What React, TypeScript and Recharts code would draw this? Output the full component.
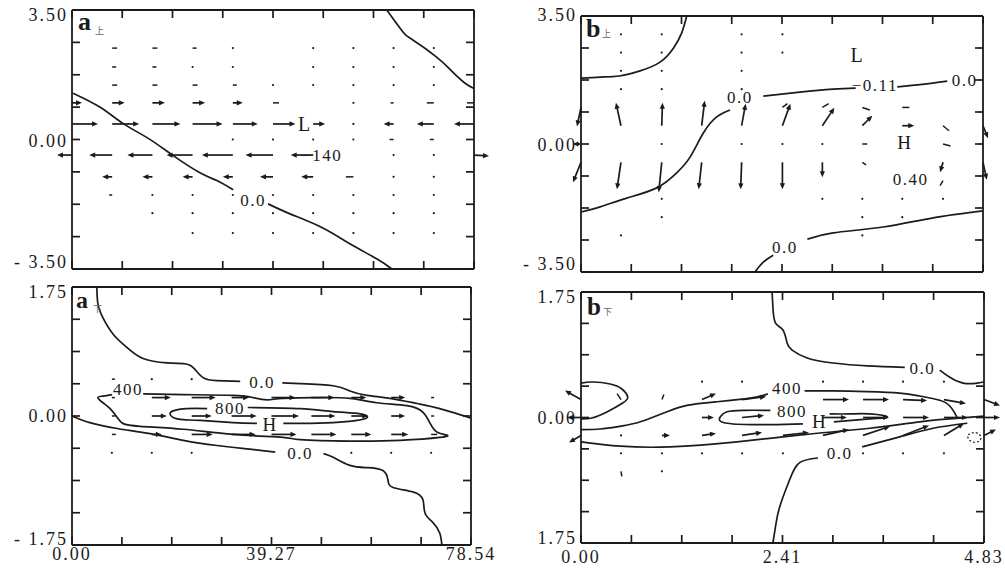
import React from 'react';
import { ComposedChart, Line, Scatter, XAxis, YAxis } from 'recharts';

type P = [number, number];
type V = [number, number, number, number]; // column index, y, u, v
type T = [number, number, string, number];

const INK = '#1b1b1b';
const FONT = '"Liberation Serif", "DejaVu Serif", "Times New Roman", serif';

// axis ticks
const aXTicks = [0, 9.8175, 19.635, 29.4525, 39.27, 49.0875, 58.905, 68.7225, 78.54];
const bXTicks = [0, 0.604, 1.2075, 1.811, 2.415, 3.019, 3.6225, 4.226, 4.83];
const topYTicks = [-3.5, -2.625, -1.75, -0.875, 0, 0.875, 1.75, 2.625, 3.5];
const lowYTicks = [-1.75, -1.3125, -0.875, -0.4375, 0, 0.4375, 0.875, 1.3125, 1.75];

const aXLabels = ['0.00', '', '', '', '39.27', '', '', '', '78.54'];
const bXLabels = ['0.00', '', '', '', '2.41', '', '', '', '4.83'];
const noLabels: string[] = [];
const topYLabels = ['- 3.50', '', '', '', '0.00', '', '', '', '3.50'];
const aLowYLabels = ['- 1.75', '', '', '', '0.00', '', '', '', '1.75'];
const bLowYLabels = ['1.75', '', '', '', '0.00', '', '', '', '1.75'];

// vector grid columns
const aCols = [0, 7.85, 15.71, 23.56, 31.42, 39.27, 47.12, 54.98, 62.83, 70.69, 78.54];
const bCols = [0, 0.48, 0.97, 1.45, 1.93, 2.42, 2.9, 3.38, 3.86, 4.35, 4.83];

// ---- a upper ----
const aTopRidge: P[] = [[61.5, 3.5], [64.7, 2.9], [66.6, 2.69], [71.3, 2.22], [74.4, 1.82], [76.8, 1.52], [78.54, 1.38]];
const aTopZeroW: P[] = [[0.2, 1.25], [5.5, 0.87], [10.0, 0.43], [14.9, 0.03], [19.7, -0.43], [25.0, -0.9], [28.3, -1.11], [31.5, -1.36]];
const aTopZeroE: P[] = [[38.3, -1.74], [42.6, -2.01], [49.0, -2.39], [54.3, -2.82], [59.6, -3.23], [62.5, -3.5]];
const aTopTags: T[] = [[45.5, 0.41, 'L', 20], [48.8, -0.43, '−140', 17], [35.4, -1.65, '0.0', 17]];
const aTopVectors: V[] = [
  [1, 2.47, 2, 0], [2, 2.47, 2, 0], [3, 2.47, 1.6, 0], [4, 2.47, 0.5, 0], [6, 2.47, 0.5, 0], [7, 2.47, 0.5, 0], [8, 2.47, 0.5, 0], [9, 2.47, 0.5, 0],
  [1, 1.96, 1.6, 0], [2, 1.96, 1.6, 0], [3, 1.96, 0.5, 0], [4, 1.96, 0.5, 0], [6, 1.96, 0.5, 0], [7, 1.96, 0.5, 0], [8, 1.96, 0.5, 0], [9, 1.96, 0.5, 0],
  [1, 1.47, 2, 0], [2, 1.47, 2, 0], [3, 1.47, 2, 0], [4, 1.47, 1.6, 0], [5, 1.47, 0.5, 0], [6, 1.47, 0.5, 0], [7, 1.47, 0.5, 0], [8, 1.47, 0.5, 0], [9, 1.47, 0.5, 0],
  [0, 0.99, 4, 0], [1, 0.99, 5, 0], [2, 0.99, 5, 0], [3, 0.99, 5, 0], [4, 0.99, 4, 0], [5, 0.99, 2.4, 0], [7, 0.99, 0.5, 0], [8, 0.99, -1.2, 0], [9, 0.99, -2.8, 0], [10, 0.99, -2.8, 0],
  [0, 0.42, 10.4, 0], [1, 0.42, 10.8, 0], [2, 0.42, 11.2, 0], [3, 0.42, 12, 0], [4, 0.42, 10, 0], [5, 0.42, 9, 0], [6, 0.42, 4.8, 0], [7, 0.42, 0.5, 0], [8, 0.42, -4, 0], [9, 0.42, -6.8, 0], [10, 0.42, -8, 0],
  [4, 0, 0.5, 0], [5, 0, 0.5, 0], [6, 0, 0.5, 0], [7, 0, 0.5, 0], [8, 0, -1.6, 0], [9, 0, -1.6, 0],
  [0, -0.42, -6, 0], [1, -0.42, -9.2, 0], [2, -0.42, -10, 0], [3, -0.42, -10.4, 0], [4, -0.42, -12.4, 0], [5, -0.42, -11, 0], [6, -0.42, -9, 0], [8, -0.42, 0.5, 0], [9, -0.42, 0.5, 0], [10, -0.42, 6, -0.4],
  [1, -1.01, -4, 0], [2, -1.01, -4, 0], [3, -1.01, -4, 0], [4, -1.01, -4, 0], [5, -1.01, -5.2, 0], [6, -1.01, -4.8, 0], [7, -1.01, -3, 0], [8, -1.01, 0.5, 0], [9, -1.01, 0.5, 0],
  [1, -1.5, -1.2, 0], [2, -1.5, 0.5, 0], [3, -1.5, 0.5, 0], [4, -1.5, 0.5, 0], [5, -1.5, 0.5, 0], [6, -1.5, 0.5, 0], [7, -1.5, 0.5, 0], [8, -1.5, 0.5, 0], [9, -1.5, 0.5, 0],
  [2, -1.99, 0.5, 0], [3, -1.99, 0.5, 0], [4, -1.99, 0.5, 0], [5, -1.99, 0.5, 0], [6, -1.99, 0.5, 0], [7, -1.99, 0.5, 0], [8, -1.99, 0.5, 0], [9, -1.99, 0.5, 0],
  [3, -2.53, 0.5, 0], [4, -2.53, 0.5, 0], [5, -2.53, 0.5, 0], [6, -2.53, 0.5, 0], [7, -2.53, 0.5, 0], [8, -2.53, 0.5, 0], [9, -2.53, 0.5, 0],
];

// ---- b upper ----
const bTopCorner: P[] = [[0, 1.8], [0.23, 1.83], [0.46, 1.86], [0.71, 2.0], [0.95, 2.24], [1.11, 2.62], [1.21, 3.04], [1.27, 3.5]];
const bTopZeroW: P[] = [[0, -1.86], [0.23, -1.72], [0.55, -1.48], [0.91, -1.2], [1.15, -0.79], [1.31, -0.36], [1.47, 0.3], [1.63, 0.74], [1.79, 0.93]];
const bTopZeroM: P[] = [[2.19, 1.31], [2.63, 1.42], [3.03, 1.5], [3.3, 1.53]];
const bTopZeroE: P[] = [[3.8, 1.56], [4.1, 1.63], [4.4, 1.72]];
const bTopLowS: P[] = [[4.83, -1.83], [4.23, -2.02], [3.63, -2.27], [3.03, -2.43], [2.72, -2.6]];
const bTopLowN: P[] = [[2.31, -3.04], [2.19, -3.23], [2.09, -3.5]];
const bTopTags: T[] = [
  [3.32, 2.43, 'L', 20], [1.91, 1.26, '0.0', 17], [3.53, 1.61, '−0.11', 17], [4.61, 1.75, '0.0', 17],
  [3.89, 0.03, 'H', 19], [3.96, -0.98, '0.40', 17], [2.45, -2.82, '0.0', 17],
];
const bTopVectors: V[] = [
  [1, 3, 0.3, 0], [2, 3, 0.3, 0], [4, 3, 0.3, 0], [5, 3, 0.3, 0],
  [1, 2.5, 0.3, 0], [2, 2.5, 0.3, 0], [4, 2.5, 0.3, 0], [5, 2.5, 0.3, 0],
  [1, 2, 0.3, 0], [2, 2, 0.3, 0], [4, 2, 0.3, 0],
  [1, 1.5, 0.3, 0], [2, 1.5, 0.3, 0], [4, 1.5, 0.3, 0],
  [0, 1, -1.6, -7.6], [5, 1, 2, 1.5], [6, 1, 2.5, 1.5], [7, 1, 3, -1], [8, 1, 2.8, 0],
  [1, 0.5, -2, 9.2], [2, 0.5, 0.3, 9.2], [3, 0.5, 1.2, 10], [4, 0.5, 1.6, 8.8], [5, 0.5, 3.2, 8.8], [6, 0.5, 4.8, 7.2], [7, 0.5, 4, 4], [8, 0.5, 4.8, 0], [9, 0.5, 2.4, -2], [10, 0.5, 2, -5],
  [0, 0, -3.4, 0], [2, 0, 0.3, 0], [4, 0, 0.3, 0], [5, 0, 0.3, 0], [6, 0, 0.3, 0], [7, 0, 2, 0], [9, 0, 3, -0.8],
  [0, -0.5, -3.2, -8], [1, -0.5, -1.6, -10.8], [2, -0.5, -1.2, -12], [3, -0.5, -1.2, -10.8], [4, -0.5, -0.4, -10.8], [5, -0.5, 0, -10.8], [6, -0.5, 0, -6], [7, -0.5, 1.5, -1], [9, -0.5, -1.2, -4], [10, -0.5, 1.5, -7],
  [9, -1, -1.2, -2],
  [2, -1.5, 0.3, 0], [6, -1.5, 0.3, 0], [7, -1.5, 0.3, 0], [8, -1.5, 0.3, 0], [9, -1.5, 0.3, 0],
  [2, -2, 0.3, 0], [7, -2, 0.3, 0], [8, -2, 0.3, 0],
  [1, -2.5, 0.3, 0], [7, -2.5, 0.3, 0],
];

// ---- a lower ----
const aLowZeroNW: P[] = [[4.9, 1.75], [5.1, 1.52], [6.1, 1.33], [8.1, 1.11], [10.8, 0.93], [14.0, 0.78], [18.7, 0.72], [21.9, 0.71], [23.8, 0.66], [25.8, 0.52], [28.5, 0.48], [33.1, 0.47]];
const aLowZeroNE: P[] = [[41.4, 0.45], [44.9, 0.44], [51.4, 0.41], [54.7, 0.34], [58.1, 0.28], [62.6, 0.24], [67.9, 0.17], [72.4, 0.1], [78.54, -0.03]];
const aLowZeroSW: P[] = [[0, 0], [3.5, -0.09], [8.9, -0.17], [15.4, -0.24], [21.9, -0.33], [28.5, -0.4], [35.0, -0.45], [40.0, -0.49]];
const aLowZeroSE: P[] = [[49.5, -0.51], [51.4, -0.56], [54.7, -0.67], [58.1, -0.7], [61.2, -0.74], [62.2, -0.87], [63.2, -0.97], [67.1, -1.03], [69.1, -1.14], [69.5, -1.32], [71.1, -1.45], [72.4, -1.59], [72.8, -1.75]];
const aLow400: P[] = [
  [14.0, 0.3], [21.9, 0.29], [31.7, 0.28], [35.6, 0.25], [38.4, 0.22], [41.5, 0.24], [48.2, 0.25], [54.7, 0.24], [60.0, 0.18], [65.9, 0.14],
  [69.1, 0.05], [70.5, -0.1], [71.9, -0.22], [73.8, -0.26], [72.4, -0.29], [64.6, -0.33], [54.7, -0.34], [44.9, -0.32], [41.5, -0.29],
  [31.7, -0.25], [21.9, -0.18], [13.4, -0.14], [10.0, -0.1], [8.9, -0.02], [7.5, 0.1], [6.1, 0.18], [5.1, 0.25], [6.1, 0.27], [7.9, 0.29],
];
const aLow800E: P[] = [[34.6, 0.115], [44.9, 0.1], [51.4, 0.06], [56.7, 0.03], [58.1, -0.02], [56.1, -0.06], [51.4, -0.09], [44.9, -0.1], [41.6, -0.1]];
const aLow800W: P[] = [[36.4, -0.1], [31.7, -0.09], [25.2, -0.06], [21.9, -0.05], [19.9, -0.02], [19.3, 0.03], [19.9, 0.07], [22.6, 0.1], [26.6, 0.1]];
const aLowTags: T[] = [
  [37.4, 0.45, '0.0', 17], [44.9, -0.51, '0.0', 17], [11.0, 0.36, '400', 17], [31.1, 0.1, '800', 17], [39.0, -0.11, 'H', 19],
];
const aLowVectors: V[] = [
  [1, 0.5, 1.2, 0], [2, 0.5, 0.5, 0], [3, 0.5, 0.5, 0],
  [1, 0.25, 1.2, 0], [2, 0.25, 7.6, 0], [3, 0.25, 9.6, 0], [4, 0.25, 7, 0], [5, 0.25, 9.6, 0], [6, 0.25, 9.2, 0], [7, 0.25, 6, 0], [8, 0.25, 5.6, 0], [9, 0.25, 1.2, 0],
  [1, 0, 1.2, 0], [2, 0, 6, 0], [3, 0, 8, 0], [4, 0, 10, 0], [5, 0, 11, 0], [6, 0, 9.6, 0], [7, 0, 6.8, 0], [8, 0, 5.6, 0], [9, 0, 1.2, 0],
  [1, -0.25, 1.6, 0], [2, -0.25, 4, 0], [3, -0.25, 8.4, 0], [4, -0.25, 9.6, 0], [5, -0.25, 10, 0], [6, -0.25, 10, 0], [7, -0.25, 8, 0], [8, -0.25, 6.8, 0], [9, -0.25, 2.4, 0],
  [1, -0.5, 0.5, 0], [2, -0.5, 0.5, 0], [3, -0.5, 0.5, 0], [7, -0.5, 0.5, 0], [8, -0.5, 0.5, 0], [9, -0.5, 0.5, 0],
];

// ---- b lower ----
const bLowLobe: P[] = [[0, 0.48], [0.14, 0.495], [0.35, 0.467], [0.49, 0.397], [0.56, 0.286], [0.5, 0.202], [0.31, 0.077], [0.13, -0.007], [0, -0.02]];
const bLow400W: P[] = [[0, -0.17], [0.23, -0.16], [0.43, -0.13], [0.65, -0.08], [0.83, -0.01], [1.03, 0.08], [1.27, 0.17], [1.63, 0.22], [2.03, 0.27], [2.24, 0.33]];
const bLow400E: P[] = [[2.68, 0.37], [3.02, 0.37], [3.43, 0.36], [3.82, 0.34], [4.06, 0.3], [4.3, 0.24], [4.42, 0.16], [4.48, 0.06], [4.51, -0.01]];
const bLowJet: P[] = [[0, -0.34], [0.47, -0.4], [1.07, -0.41], [1.87, -0.34], [2.66, -0.24], [3.46, -0.15], [4.06, -0.06], [4.42, -0.02], [4.83, 0.02]];
const bLow800W: P[] = [[2.27, 0.1], [1.94, 0.1], [1.75, 0.08], [1.67, 0.01], [1.75, -0.08], [2.27, -0.1], [2.66, -0.09]];
const bLow800E: P[] = [[3.03, -0.06], [3.46, -0.02], [3.67, 0.01], [3.46, 0.05], [3.22, 0.05], [2.98, 0.05]];
const bLowZeroN1: P[] = [[2.29, 1.75], [2.3, 1.54], [2.33, 1.32], [2.42, 1.22], [2.47, 1.04], [2.53, 0.94], [2.71, 0.83], [3.02, 0.76], [3.43, 0.72], [3.88, 0.7]];
const bLowZeroN2: P[] = [[4.3, 0.66], [4.42, 0.56], [4.58, 0.48], [4.75, 0.48], [4.83, 0.495]];
const bLowZeroS1: P[] = [[4.63, -0.08], [4.22, -0.15], [3.82, -0.27], [3.37, -0.41]];
const bLowZeroS2: P[] = [[2.84, -0.565], [2.62, -0.63], [2.5, -0.87], [2.38, -1.25], [2.33, -1.53], [2.3, -1.75]];
const bLowDashed: P[] = [[4.64, -0.24], [4.72, -0.21], [4.79, -0.26], [4.77, -0.33], [4.69, -0.34], [4.64, -0.29], [4.64, -0.24]];
const bLowTags: T[] = [
  [4.09, 0.69, '0.0', 17], [2.47, 0.41, '400', 17], [2.53, 0.09, '800', 17], [2.86, -0.05, 'H', 19], [3.1, -0.5, '0.0', 17],
];
const bLowVectors: V[] = [
  [3, 0.5, 0.3, 0], [4, 0.5, 0.3, 0], [6, 0.5, 0.3, 0], [7, 0.5, 0.3, 0], [8, 0.5, 0.3, 0], [9, 0.5, 0.3, 0],
  [0, 0.25, -6.4, 3.6], [1, 0.25, -1.6, 2.4], [2, 0.25, 0.8, 2], [3, 0.25, 5.6, 2.4], [4, 0.25, 9.6, 1.2], [6, 0.25, 10.4, 0], [7, 0.25, 10.4, 0], [8, 0.25, 9.6, -0.4], [9, 0.25, 8.8, -1.6], [10, 0.25, 6.4, -2.4],
  [0, 0, -5.6, 0], [3, 0, 4.8, 0], [4, 0, 8.8, 0.8], [6, 0, 9.6, 0], [7, 0, 10.4, 0], [8, 0, 10.4, 0], [9, 0, 9.6, 0], [10, 0, 6.4, 0],
  [0, -0.25, -4.8, -2.8], [1, -0.25, 0.3, 0], [2, -0.25, 3.2, 0], [3, -0.25, 5.6, 0.8], [4, -0.25, 8, 1.2], [5, -0.25, 10.4, 1.2], [6, -0.25, 10.4, 2.4], [7, -0.25, 10.8, 3.6], [8, -0.25, 10.4, 4], [9, -0.25, 8, 4.8], [10, -0.25, 4.8, 2.4],
  [1, -0.5, 0.3, 0], [2, -0.5, 0.3, 0], [3, -0.5, 0.3, 0], [4, -0.5, 0.3, 0], [5, -0.5, 0.3, 0], [7, -0.5, 0.3, 0], [8, -0.5, 0.3, 0], [9, -0.5, 0.3, 0],
  [1, -0.75, 0.3, -2], [2, -0.75, 0.3, 0],
];

const pts = (list: P[]) => list.map(([x, y]) => ({ x, y }));
const vecs = (list: V[], cols: number[]) => list.map(([k, y, u, v]) => ({ x: cols[k], y, u, v }));
const tags = (list: T[]) => list.map(([x, y, text, size]) => ({ x, y, text, size }));

// inward tick marks on all four sides of the frame, one point per tick value
const frameTicks = (xs: number[], ys: number[], xMax: number, yMax: number) => [
  ...xs.map((x) => ({ x, y: -yMax, dx: 0, dy: -1 })),
  ...xs.map((x) => ({ x, y: yMax, dx: 0, dy: 1 })),
  ...ys.map((y) => ({ x: 0, y, dx: 1, dy: 0 })),
  ...ys.map((y) => ({ x: xMax, y, dx: -1, dy: 0 })),
];

const TICK_LEN = 8;

function TickMark(props: any) {
  const { cx, cy, payload } = props;
  if (cx == null || cy == null) return <g />;
  return (
    <line x1={cx} y1={cy} x2={cx + payload.dx * TICK_LEN} y2={cy + payload.dy * TICK_LEN}
      stroke={INK} strokeWidth={1.7} />
  );
}

function Arrow(props: any) {
  const { cx, cy, payload, scale } = props;
  if (cx == null || cy == null) return <g />;
  const dx = payload.u * scale;
  const dy = -payload.v * scale;
  const len = Math.hypot(dx, dy);
  if (len < 2.5) return <circle cx={cx} cy={cy} r={1.1} fill={INK} />;
  const ex = cx + dx;
  const ey = cy + dy;
  if (len < 8) return <line x1={cx} y1={cy} x2={ex} y2={ey} stroke={INK} strokeWidth={1.5} />;
  const ux = dx / len;
  const uy = dy / len;
  const hl = 6;
  const hw = 2.6;
  const bx = ex - ux * hl;
  const by = ey - uy * hl;
  return (
    <g>
      <line x1={cx} y1={cy} x2={bx + ux} y2={by + uy} stroke={INK} strokeWidth={1.7} />
      <polygon points={`${ex},${ey} ${bx - uy * hw},${by + ux * hw} ${bx + uy * hw},${by - ux * hw}`} fill={INK} />
    </g>
  );
}

function Tag(props: any) {
  const { cx, cy, payload } = props;
  return (
    <text x={cx} y={cy} textAnchor="middle" dominantBaseline="central" fontFamily={FONT}
      fontSize={payload.size} letterSpacing={1.5} fill={INK}>
      {payload.text}
    </text>
  );
}

interface PanelProps {
  box: { left: number; top: number; width: number; height: number };
  margin: { top: number; right: number; bottom: number; left: number };
  xMax: number;
  yMax: number;
  xTicks: number[];
  yTicks: number[];
  xLabels: string[];
  yLabels: string[];
  yShift: number[];
  xLabelDy: number;
  lines: P[][];
  dashed?: P[][];
  vectors: { x: number; y: number; u: number; v: number }[];
  labels: { x: number; y: number; text: string; size: number }[];
}

function Panel(p: PanelProps) {
  const axisLine = { stroke: INK, strokeWidth: 1.8 };
  // axes are 1px thick so that Recharts draws them; margins are one less
  const m = { top: p.margin.top - 1, right: p.margin.right - 1, bottom: p.margin.bottom - 1, left: p.margin.left - 1 };
  const bottomTick = (t: any) =>
    p.xLabels[t.index] ? (
      <text x={t.x} y={t.y + p.xLabelDy} textAnchor="middle" fontFamily={FONT} fontSize={18} letterSpacing={2} fill={INK}>
        {p.xLabels[t.index]}
      </text>
    ) : (
      <g />
    );
  const leftTick = (t: any) =>
    p.yLabels[t.index] ? (
      <text x={t.x - 4} y={t.y + p.yShift[t.index]} textAnchor="end" dominantBaseline="central" fontFamily={FONT}
        fontSize={18} letterSpacing={2} fill={INK}>
        {p.yLabels[t.index]}
      </text>
    ) : (
      <g />
    );
  const blank = () => <g />;

  return (
    <div style={{ position: 'absolute', left: p.box.left, top: p.box.top }}>
      <ComposedChart width={p.box.width} height={p.box.height} margin={m}>
        <XAxis type="number" dataKey="x" domain={[0, p.xMax]} ticks={p.xTicks} interval={0} height={1}
          tickSize={0} tickMargin={0} tickLine={false} axisLine={axisLine} tick={bottomTick} />
        <XAxis xAxisId="t" orientation="top" type="number" dataKey="x" domain={[0, p.xMax]} ticks={p.xTicks}
          interval={0} height={1} tickSize={0} tickMargin={0} tickLine={false} axisLine={axisLine} tick={blank} />
        <YAxis type="number" dataKey="y" domain={[-p.yMax, p.yMax]} ticks={p.yTicks} interval={0} width={1}
          tickSize={0} tickMargin={0} tickLine={false} axisLine={axisLine} tick={leftTick} />
        <YAxis yAxisId="r" orientation="right" type="number" dataKey="y" domain={[-p.yMax, p.yMax]} ticks={p.yTicks}
          interval={0} width={1} tickSize={0} tickMargin={0} tickLine={false} axisLine={axisLine} tick={blank} />
        <Scatter data={frameTicks(p.xTicks, p.yTicks, p.xMax, p.yMax)} isAnimationActive={false}
          shape={(s: any) => <TickMark {...s} />} />
        {p.lines.map((l, i) => (
          <Line key={`c${i}`} data={pts(l)} dataKey="y" type="natural" stroke={INK} strokeWidth={1.7}
            dot={false} activeDot={false} isAnimationActive={false} />
        ))}
        {(p.dashed || []).map((l, i) => (
          <Line key={`d${i}`} data={pts(l)} dataKey="y" type="natural" stroke={INK} strokeWidth={1.2}
            strokeDasharray="2 2" dot={false} activeDot={false} isAnimationActive={false} />
        ))}
        <Scatter data={p.vectors} isAnimationActive={false} shape={(s: any) => <Arrow {...s} scale={2.5} />} />
        <Scatter data={p.labels} isAnimationActive={false} shape={(s: any) => <Tag {...s} />} />
      </ComposedChart>
    </div>
  );
}

const titles = [
  { x: 78, y: 30, size: 26, main: 'a', sub: '上', sx: 95, sy: 34 },
  { x: 586, y: 37, size: 26, main: 'b', sub: '上', sx: 602, sy: 37 },
  { x: 76, y: 308, size: 24, main: 'a', sub: '下', sx: 93, sy: 312 },
  { x: 587, y: 315, size: 25, main: 'b', sub: '下', sx: 603, sy: 315 },
];

export default function App() {
  return (
    <div style={{ position: 'absolute', left: 0, top: 0, width: 1005, height: 571, background: '#fff' }}>
      <Panel box={{ left: 0, top: 0, width: 502, height: 280 }} margin={{ top: 10, right: 28, bottom: 11, left: 72 }}
        xMax={78.54} yMax={3.5} xTicks={aXTicks} yTicks={topYTicks} xLabels={noLabels} yLabels={topYLabels}
        yShift={[-7, 0, 0, 0, 1, 0, 0, 0, 5]} xLabelDy={15}
        lines={[aTopRidge, aTopZeroW, aTopZeroE]} vectors={vecs(aTopVectors, aCols)} labels={tags(aTopTags)} />
      <Panel box={{ left: 502, top: 0, width: 503, height: 280 }} margin={{ top: 16, right: 22, bottom: 8, left: 79 }}
        xMax={4.83} yMax={3.5} xTicks={bXTicks} yTicks={topYTicks} xLabels={noLabels} yLabels={topYLabels}
        yShift={[-8, 0, 0, 0, 1, 0, 0, 0, -1]} xLabelDy={15}
        lines={[bTopCorner, bTopZeroW, bTopZeroM, bTopZeroE, bTopLowS, bTopLowN]} vectors={vecs(bTopVectors, bCols)}
        labels={tags(bTopTags)} />
      <Panel box={{ left: 0, top: 280, width: 502, height: 291 }} margin={{ top: 7, right: 31, bottom: 26, left: 72 }}
        xMax={78.54} yMax={1.75} xTicks={aXTicks} yTicks={lowYTicks} xLabels={aXLabels} yLabels={aLowYLabels}
        yShift={[-6, 0, 0, 0, 0, 0, 0, 0, 5]} xLabelDy={15}
        lines={[aLowZeroNW, aLowZeroNE, aLowZeroSW, aLowZeroSE, aLow400, aLow800E, aLow800W]}
        vectors={vecs(aLowVectors, aCols)} labels={tags(aLowTags)} />
      <Panel box={{ left: 502, top: 280, width: 503, height: 291 }} margin={{ top: 12, right: 21, bottom: 28, left: 79 }}
        xMax={4.83} yMax={1.75} xTicks={bXTicks} yTicks={lowYTicks} xLabels={bXLabels} yLabels={bLowYLabels}
        yShift={[-5, 0, 0, 0, 0, 0, 0, 0, 5]} xLabelDy={20}
        lines={[bLowLobe, bLow400W, bLow400E, bLowJet, bLow800W, bLow800E, bLowZeroN1, bLowZeroN2, bLowZeroS1, bLowZeroS2]}
        dashed={[bLowDashed]} vectors={vecs(bLowVectors, bCols)} labels={tags(bLowTags)} />
      <svg width={1005} height={571} style={{ position: 'absolute', left: 0, top: 0, pointerEvents: 'none' }}>
        {titles.map((t, i) => (
          <g key={i}>
            <text x={t.x} y={t.y} fontFamily={FONT} fontWeight="bold" fontSize={t.size} fill={INK}>{t.main}</text>
            <text x={t.sx} y={t.sy} fontFamily='"Noto Sans CJK SC", sans-serif' fontSize={9} fill="#666">{t.sub}</text>
          </g>
        ))}
      </svg>
    </div>
  );
}
